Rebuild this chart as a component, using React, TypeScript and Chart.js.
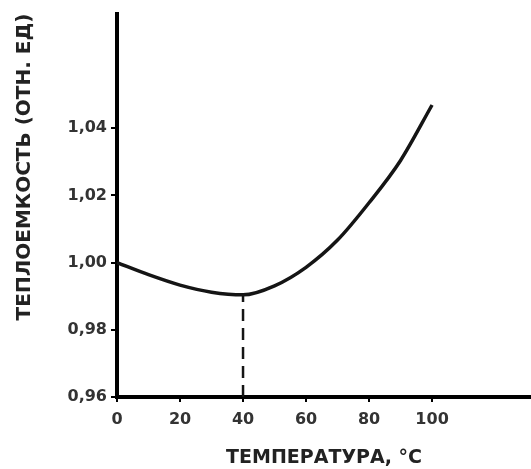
import React, { useEffect, useRef } from "react";
import { Chart, registerables } from "chart.js";

Chart.register(...registerables);

const temperatures = [0, 10, 20, 30, 40, 50, 60, 70, 80, 90, 100];
const heatCapacity = [1.0, 0.9964, 0.9933, 0.9912, 0.9904, 0.9931, 0.9986, 1.0067, 1.0178, 1.0304, 1.0469];
const minTemp = 40;
const minValue = 0.9904;
const xTickMax = 100;
const yTickMin = 0.96;
const yTickMax = 1.04;
const xAxisMax = 131.4;
const yAxisMax = 1.0741;
const xTitle = "ТЕМПЕРАТУРА, °С";
const yTitle = "ТЕПЛОЕМКОСТЬ (ОТН. ЕД)";

export default function App() {
  const ref = useRef<HTMLCanvasElement | null>(null);
  useEffect(() => {
    if (!ref.current) return;
    const tickFont = { family: "'DejaVu Sans', sans-serif", size: 16, weight: "bold" as const };
    const chart = new Chart(ref.current, {
      type: "line",
      data: {
        datasets: [
          {
            data: temperatures.map((t, i) => ({ x: t, y: heatCapacity[i] })),
            borderColor: "#151515",
            borderWidth: 3.5,
            pointRadius: 0,
            cubicInterpolationMode: "monotone",
            fill: false,
          },
          {
            data: [
              { x: minTemp, y: yTickMin },
              { x: minTemp, y: minValue },
            ],
            borderColor: "#151515",
            borderWidth: 2.5,
            borderDash: [12, 7],
            pointRadius: 0,
            fill: false,
          },
        ],
      },
      options: {
        animation: false,
        responsive: true,
        maintainAspectRatio: false,
        layout: { padding: { top: 12, right: 0, left: 0, bottom: 0 } },
        plugins: { legend: { display: false }, tooltip: { enabled: false } },
        scales: {
          x: {
            type: "linear",
            min: 0,
            max: xAxisMax,
            afterBuildTicks: (s: any) => {
              s.ticks = s.ticks.filter((t: any) => t.value <= xTickMax + 1e-6);
            },
            afterFit: (s: any) => {
              s.height = 72;
            },
            ticks: { stepSize: 20, color: "#333", font: tickFont, padding: 8, maxRotation: 0 },
            grid: { display: true, drawOnChartArea: false, drawTicks: true, tickLength: 5, color: "#000", lineWidth: 2 },
            border: { display: true, color: "#000", width: 4 },
            title: {
              display: true,
              text: xTitle,
              color: "#222",
              font: { family: "'DejaVu Sans', sans-serif", size: 19, weight: "bold", lineHeight: 1.2 },
              padding: { top: 0, bottom: 0 },
            },
          },
          y: {
            type: "linear",
            min: yTickMin,
            max: yAxisMax,
            afterBuildTicks: (s: any) => {
              s.ticks = s.ticks.filter((t: any) => t.value <= yTickMax + 1e-6);
            },
            afterFit: (s: any) => {
              s.width = 117;
            },
            ticks: {
              stepSize: 0.02,
              color: "#333",
              font: tickFont,
              padding: 4,
              callback: (v: any) => Number(v).toFixed(2).replace(".", ","),
            },
            grid: { display: true, drawOnChartArea: false, drawTicks: true, tickLength: 6, color: "#000", lineWidth: 2 },
            border: { display: true, color: "#000", width: 4 },
            title: {
              display: true,
              text: yTitle,
              align: "end",
              color: "#222",
              font: { family: "'DejaVu Sans', sans-serif", size: 20, weight: "bold", lineHeight: 1.2 },
              padding: { top: 13, bottom: 0 },
            },
          },
        },
      },
    });
    return () => chart.destroy();
  }, []);
  return (
    <div style={{ position: "absolute", left: 0, top: 0, width: 531, height: 469, background: "#fff" }}>
      <canvas ref={ref} />
    </div>
  );
}
